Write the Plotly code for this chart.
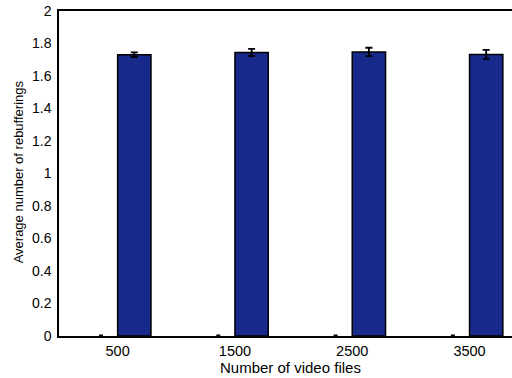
import plotly.graph_objects as go

# Data
file_counts = ["500", "1500", "2500", "3500"]
baseline_mean = [0.0, 0.0, 0.0, 0.0]
baseline_err = [0.0, 0.0, 0.0, 0.0]
rebuffer_mean = [1.731, 1.745, 1.748, 1.733]
rebuffer_err = [0.014, 0.022, 0.026, 0.028]
y_ticks = [0, 0.2, 0.4, 0.6, 0.8, 1.0, 1.2, 1.4, 1.6, 1.8, 2.0]

FONT = "Liberation Sans, Arial, sans-serif"
BAR_BLUE = "#172A8B"

fig = go.Figure()
fig.add_trace(go.Bar(
    x=file_counts, y=baseline_mean,
    marker=dict(color=BAR_BLUE, line=dict(color="black", width=0)),
    error_y=dict(type="data", array=baseline_err, visible=True,
                 color="black", thickness=3, width=2),
    showlegend=False,
))
fig.add_trace(go.Bar(
    x=file_counts, y=rebuffer_mean,
    marker=dict(color=BAR_BLUE, line=dict(color="black", width=1.5)),
    error_y=dict(type="data", array=rebuffer_err, visible=True,
                 color="black", thickness=1.8, width=3.5),
    showlegend=False,
))

fig.update_layout(
    width=512, height=378,
    margin=dict(l=59, r=0, t=11, b=42),
    paper_bgcolor="white", plot_bgcolor="white",
    barmode="group", bargap=0.432, bargroupgap=0,
    font=dict(family=FONT, size=14, color="black"),
    xaxis=dict(
        type="category", range=[-0.5, 3.362],
        showline=True, linecolor="black", linewidth=1.5, mirror=True,
        showgrid=False, ticks="", zeroline=False,
        tickfont=dict(size=14.5), ticklabelstandoff=1,
    ),
    yaxis=dict(
        range=[0, 2], tickvals=y_ticks,
        ticktext=[f"{v:g}" for v in y_ticks],
        showline=True, linecolor="black", linewidth=1.5, mirror=False,
        showgrid=False, ticks="", zeroline=False,
        tickfont=dict(size=14), ticklabelstandoff=3,
    ),
    annotations=[
        dict(text="Number of video files", xref="paper", yref="paper",
             x=0.51, y=-0.098, xanchor="center", yanchor="middle",
             showarrow=False, font=dict(size=15)),
        dict(text="Average number of rebufferings", xref="paper", yref="paper",
             x=-0.0887, y=0.506, xanchor="center", yanchor="middle",
             textangle=-90, showarrow=False, font=dict(size=13)),
    ],
)

fig.write_html("out.html")
